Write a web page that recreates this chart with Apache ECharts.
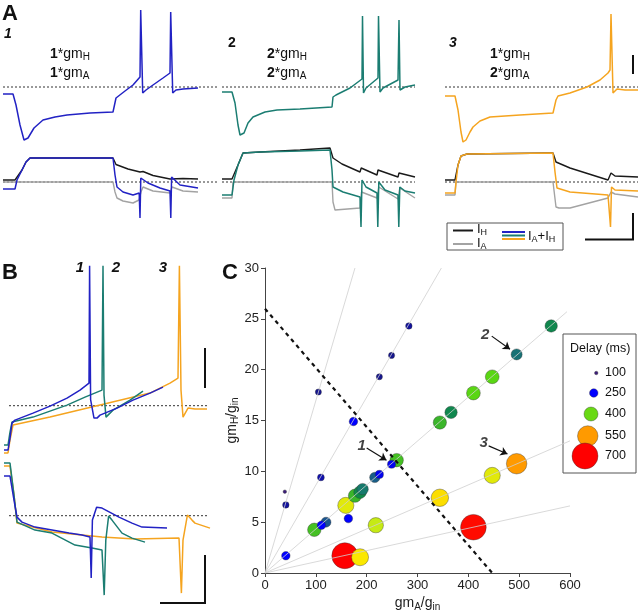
<!DOCTYPE html>
<html><head><meta charset="utf-8">
<script src="https://cdn.jsdelivr.net/npm/echarts@6/dist/echarts.min.js"></script>
<style>html,body{margin:0;padding:0;background:#fff}#c{width:640px;height:613px}</style>
</head><body><div id="c"></div>
<script>
// ---------------- Panel C data ----------------
const cGmA   = [39,41,41,105,110,97,111,120,164,159,177,187,192,216,225,249,259,218,157,187,174,225,249,283,563,495,447,410,366,344,495,447,344,410];
const cGmH   = [8.0,6.7,1.7,17.8,9.4,4.25,4.7,5.0,5.35,6.65,7.6,7.95,8.25,9.4,9.7,10.7,11.1,4.7,1.7,1.55,14.9,19.3,21.4,24.3,24.3,21.5,19.3,17.7,15.8,14.8,10.75,9.6,7.4,4.5];
const cDelay = [100,190,250,180,200,385,250,290,250,450,380,360,330,300,240,240,385,430,700,470,250,180,180,190,355,320,395,395,355,380,550,450,480,690];
const legendDelays = [100,250,400,550,700];
const cXTicks = [0,100,200,300,400,500,600];
const cYTicks = [0,5,10,15,20,25,30];
const guideEnds = [[177,30],[347,30],[594,25.7],[600,13],[600,6.6]];
const thresholdLine = [[0,26],[447,0]];
const cNoteLabels = ['1','2','3'];
const cNoteAt = [[190,12.5],[433,23.4],[430,12.8]];
const cArrowFrom = [[200,12.3],[446,23.3],[440,12.5]];
const cArrowTo = [[239,11.1],[482,22.0],[477,11.7]];

// ---------------- Panel A traces (t ms, V mV / I pA) ----------------
const a1V = [[0,-44],[100,-44],[130,-55],[170,-75],[210,-90],[250,-88],[310,-78],[400,-70],[520,-67],[640,-65],[870,-63],[1100,-62],[1120,-60],[1130,-48],[1150,-46],[1220,-41],[1300,-35],[1370,-27],[1377,40],[1397,-43],[1430,-40],[1500,-35],[1600,-28],[1670,-23],[1677,38],[1697,-43],[1730,-40],[1800,-39],[1950,-38]];
const a1Isum = [[0,-70],[120,-70],[140,20],[190,120],[230,200],[270,240],[1100,240],[1120,70],[1140,-50],[1200,-100],[1300,-130],[1362,-110],[1370,-360],[1378,40],[1450,-10],[1570,-60],[1670,-90],[1678,-360],[1686,50],[1770,-30],[1950,-60]];
const a1IH = [[0,20],[120,20],[140,40],[190,120],[230,200],[270,240],[1100,240],[1130,175],[1250,130],[1370,100],[1380,95],[1400,105],[1500,65],[1670,30],[1690,50],[1800,35],[1950,30]];
const a1IA = [[0,0],[1100,0],[1120,-100],[1140,-160],[1200,-190],[1300,-210],[1360,-180],[1380,-100],[1400,-50],[1500,-90],[1670,-110],[1690,-50],[1800,-90],[1950,-100]];

const a2V = [[0,-42],[100,-42],[130,-53],[160,-75],[180,-85],[220,-83],[260,-73],[310,-67],[430,-62],[550,-60],[780,-59],[1100,-57],[1110,-47],[1140,-45],[1280,-38],[1400,-29],[1405,34],[1415,-43],[1440,-38],[1560,-28],[1565,34],[1580,-42],[1610,-38],[1760,-30],[1770,30],[1780,-40],[1830,-37],[1930,-35]];
const a2Isum = [[0,-130],[100,-130],[120,20],[160,170],[210,290],[380,300],[780,310],[1080,320],[1100,120],[1110,-50],[1210,-100],[1380,-150],[1390,-450],[1400,20],[1440,-50],[1550,-110],[1558,-450],[1568,0],[1630,-80],[1760,-130],[1768,-450],[1778,-50],[1830,-90],[1930,-110]];
const a2IH = [[0,30],[100,30],[120,40],[160,170],[210,290],[380,300],[780,320],[1080,340],[1110,240],[1200,180],[1380,100],[1392,140],[1400,140],[1550,70],[1560,120],[1570,100],[1760,50],[1770,90],[1780,70],[1930,50]];
const a2IA = [[0,-160],[100,-160],[110,0],[1100,0],[1110,-200],[1130,-280],[1380,-260],[1395,-100],[1410,-100],[1550,-160],[1568,-50],[1760,-170],[1778,-60],[1930,-160]];

const a3V = [[0,-46],[100,-46],[130,-60],[160,-82],[180,-92],[210,-90],[250,-82],[280,-77],[350,-71],[450,-67],[750,-65],[1080,-63],[1110,-50],[1130,-46],[1250,-43],[1420,-37],[1550,-30],[1630,-23],[1650,-20],[1660,36],[1680,-43],[1720,-39],[1800,-40],[1930,-40]];
const a3Isum = [[0,-110],[100,-110],[110,0],[130,170],[160,260],[220,280],[1080,290],[1100,100],[1120,-60],[1250,-100],[1630,-130],[1655,-450],[1665,-50],[1700,-80],[1930,-90]];
const a3IH = [[0,20],[100,20],[130,170],[160,260],[220,280],[1080,290],[1110,200],[1250,140],[1630,20],[1660,90],[1700,60],[1930,50]];
const a3IA = [[0,-130],[100,-130],[110,0],[1080,0],[1110,-250],[1140,-260],[1250,-260],[1630,-160],[1660,-100],[1700,-120],[1930,-150]];
const aVThreshold = -37;
const aTraceEnds = [2140,1930,1930];

// ---------------- Panel B traces ----------------
const bV1 = [[-5,-62.2],[15,-62.2],[25,-56.2],[35,-48.7],[50,-47.2],[140,-43.7],[225,-40.2],[310,-36.2],[375,-32.2],[420,-28.7],[423,30],[428,-37],[445,-46.2],[460,-46.2],[475,-44.7],[560,-41.2],[640,-37.2],[725,-33.7],[790,-30.7]];
const bV2 = [[-5,-59.7],[15,-59.7],[25,-53.2],[35,-48.2],[140,-45.7],[310,-39.7],[400,-35.7],[485,-32.2],[490,30],[495,-34.7],[505,-45.7],[515,-45.7],[540,-42.2],[625,-37.2],[690,-32.7]];
const bV3 = [[-5,-63.6],[15,-63.6],[25,-57.2],[40,-49.7],[225,-45.7],[475,-39.7],[725,-33.7],[825,-28.7],[865,-26.2],[872,30],[880,-32.2],[890,-45.7],[900,-44.7],[915,-41.2],[950,-41.7],[1010,-41.7]];
const bI1 = [[-5,198],[25,198],[45,78],[60,-7],[85,-32],[150,-57],[235,-72],[320,-87],[385,-97],[425,-107],[431,-312],[437,-22],[458,42],[485,38],[570,-7],[635,-37],[685,-57],[810,-62]];
const bI2 = [[-5,263],[25,263],[45,103],[60,-32],[150,-72],[235,-87],[350,-147],[435,-162],[485,-172],[496,-397],[504,-122],[518,-2],[535,-22],[585,-87],[635,-112],[700,-132]];
const bI3 = [[-5,248],[25,248],[45,103],[60,-37],[235,-82],[485,-107],[650,-117],[870,-112],[882,-387],[890,-122],[912,3],[935,-22],[950,-37],[1025,-62]];
const bVThreshold = -40;
const bThresholdSpan = [20,1020];

// ---------------- styles ----------------
const FONT = "'Liberation Sans', Arial, Helvetica, sans-serif";
const COL = {c1:'#2222c4', c2:'#1b7d72', c3:'#f5a41f', IH:'#1a1a1a', IA:'#a3a3a3'};
const delayColorStops = [[100,'#3c1d7a'],[180,'#15158e'],[250,'#0000ff'],[290,'#1a5590'],[330,'#167a6c'],[360,'#0f8a48'],[395,'#5ad614'],[430,'#c6ea14'],[470,'#fbe800'],[550,'#ff9a00'],[700,'#ff0000']];
const delaySizeStops = [[100,3.5],[250,8.5],[400,14],[550,20.5],[700,26]];

function hex2rgb(h){return [parseInt(h.substr(1,2),16),parseInt(h.substr(3,2),16),parseInt(h.substr(5,2),16)];}
function interpStops(stops, d, isColor){
  if (d <= stops[0][0]) return stops[0][1];
  for (let i=1;i<stops.length;i++){
    if (d <= stops[i][0]){
      const f=(d-stops[i-1][0])/(stops[i][0]-stops[i-1][0]);
      if (!isColor) return stops[i-1][1]+f*(stops[i][1]-stops[i-1][1]);
      const a=hex2rgb(stops[i-1][1]), b=hex2rgb(stops[i][1]);
      return 'rgb('+a.map((v,k)=>Math.round(v+f*(b[k]-v))).join(',')+')';
    }
  }
  return stops[stops.length-1][1];
}
const delayColor = d => interpStops(delayColorStops,d,true);
const delaySize = d => interpStops(delaySizeStops,d,false);

// ---------------- grids ----------------
// 0..5 panel A (top/bottom per column), 6,7 panel B, 8 panel C
const grids = [
  {left:3,top:0,width:220,height:150},{left:3,top:150,width:220,height:80},
  {left:222,top:0,width:220,height:150},{left:222,top:150,width:220,height:80},
  {left:445,top:0,width:195,height:150},{left:445,top:150,width:195,height:80},
  {left:3,top:261.7,width:207,height:208},{left:3,top:461.7,width:207,height:138},
  {left:265,top:268,width:305,height:306}
];
const xRanges = [[0,2200],[0,2200],[0,2200],[0,2200],[0,1950],[0,1950],[-10,1025],[-10,1025]];
const yRanges = [[-100,50],[-480,320],[-100,50],[-480,320],[-100,50],[-480,320],[-72,32],[-420,270]];

const xAxes = xRanges.map((r,i)=>({gridIndex:i,type:'value',min:r[0],max:r[1],show:false}));
const yAxes = yRanges.map((r,i)=>({gridIndex:i,type:'value',min:r[0],max:r[1],show:false}));
const axisLbl = {color:'#222',fontSize:13,fontFamily:FONT};
xAxes.push({gridIndex:8,type:'value',min:0,max:600,interval:100,
  axisLine:{show:true,lineStyle:{color:'#444',width:1}},axisTick:{show:true,length:4,lineStyle:{color:'#444'}},
  splitLine:{show:false},axisLabel:Object.assign({margin:6,formatter:v=>cXTicks.includes(v)?String(v):''},axisLbl),
  name:'{m|gm}{s|A}{m|/g}{s|in}',nameLocation:'middle',nameGap:22,
  nameTextStyle:{rich:{m:{fontSize:14,color:'#222',fontFamily:FONT},s:{fontSize:10,color:'#222',fontFamily:FONT,padding:[7,0,0,0]}}}});
yAxes.push({gridIndex:8,type:'value',min:0,max:30,interval:5,
  axisLine:{show:true,lineStyle:{color:'#444',width:1}},axisTick:{show:true,length:4,lineStyle:{color:'#444'}},
  splitLine:{show:false},axisLabel:Object.assign({margin:6,formatter:v=>cYTicks.includes(v)?String(v):''},axisLbl),
  name:'{m|gm}{s|H}{m|/g}{s|in}',nameLocation:'middle',nameGap:24,nameRotate:90,
  nameTextStyle:{rich:{m:{fontSize:14,color:'#222',fontFamily:FONT},s:{fontSize:10,color:'#222',fontFamily:FONT,padding:[7,0,0,0]}}}});

const series = [];
function trace(g,data,color,w,extra){
  series.push(Object.assign({type:'line',xAxisIndex:g,yAxisIndex:g,data:data,showSymbol:false,symbol:'none',silent:true,animation:false,
    clip:false,lineStyle:{color:color,width:w||1.4}},extra||{}));
}
function dotted(g,x0,x1,y){
  trace(g,[[x0,y],[x1,y]],'#333',1,{lineStyle:{color:'#333',width:1,type:[2,2]}});
}
// Panel A
const aSets = [[a1V,a1Isum,a1IH,a1IA,COL.c1],[a2V,a2Isum,a2IH,a2IA,COL.c2],[a3V,a3Isum,a3IH,a3IA,COL.c3]];
aSets.forEach((s,k)=>{
  const gT=2*k, gB=2*k+1;
  dotted(gT,0,aTraceEnds[k],aVThreshold);
  trace(gT,s[0],s[4],1.5);
  dotted(gB,0,aTraceEnds[k],0);
  trace(gB,s[3],COL.IA,1.4);
  trace(gB,s[2],COL.IH,1.4);
  trace(gB,s[1],s[4],1.5);
});
// Panel B
dotted(6,bThresholdSpan[0],bThresholdSpan[1],bVThreshold);
dotted(7,bThresholdSpan[0],bThresholdSpan[1],0);
trace(6,bV3,COL.c3,1.5); trace(6,bV2,COL.c2,1.5); trace(6,bV1,COL.c1,1.5);
trace(7,bI3,COL.c3,1.5); trace(7,bI2,COL.c2,1.5); trace(7,bI1,COL.c1,1.5);

// Panel C
guideEnds.forEach(e=>trace(8,[[0,0],e],'#cfcfcf',0.8,{clip:true}));
trace(8,thresholdLine,'#111',2.2,{lineStyle:{color:'#111',width:2.2,type:[4,4]}});
const pts = cGmA.map((x,i)=>({value:[x,cGmH[i],cDelay[i]],itemStyle:{color:delayColor(cDelay[i])}}))
  .sort((a,b)=>b.value[2]-a.value[2]);
series.push({type:'scatter',xAxisIndex:8,yAxisIndex:8,data:pts,animation:false,
  symbolSize:v=>delaySize(v[2]),itemStyle:{borderColor:'rgba(50,50,50,0.55)',borderWidth:0.7,opacity:1}});
series.push({type:'lines',coordinateSystem:'cartesian2d',xAxisIndex:8,yAxisIndex:8,animation:false,silent:true,
  symbol:['none','arrow'],symbolSize:7,lineStyle:{color:'#111',width:1.2,opacity:1},
  data:cArrowFrom.map((f,i)=>({coords:[f,cArrowTo[i]]}))});
series.push({type:'scatter',xAxisIndex:8,yAxisIndex:8,symbolSize:0,animation:false,silent:true,
  data:cNoteAt.map((p,i)=>({name:cNoteLabels[i],value:p})),
  label:{show:true,position:'inside',formatter:'{b}',fontSize:15,fontWeight:'bold',fontStyle:'italic',color:'#111',fontFamily:FONT}});

// ---------------- graphics (labels, legends, scale bars) ----------------
const g = [];
function txt(x,y,text,opt){g.push({type:'text',x:x,y:y,silent:true,style:Object.assign({text:text,fill:'#111',font:'13px '+FONT,textAlign:'left',textVerticalAlign:'middle'},opt||{})});}
function ln(x1,y1,x2,y2,color,w){g.push({type:'line',silent:true,shape:{x1:x1,y1:y1,x2:x2,y2:y2},style:{stroke:color,lineWidth:w}});}
const subRich = {b:{fontWeight:'bold',fontSize:14,fontFamily:FONT,fill:'#111'},n:{fontSize:14,fontFamily:FONT,fill:'#111'},s:{fontSize:10,fontFamily:FONT,fill:'#111',padding:[7,0,0,0]}};
txt(2,14,'A',{font:'bold 22px '+FONT});
txt(2,273,'B',{font:'bold 22px '+FONT});
txt(222,273,'C',{font:'bold 22px '+FONT});
txt(4,34,'1',{font:'italic bold 14px '+FONT});
txt(228,43,'2',{font:'bold 14px '+FONT});
txt(449,43,'3',{font:'italic bold 14px '+FONT});
const aNotes = [[50,'1','1'],[267,'2','2'],[490,'1','2']];
aNotes.forEach(n=>{
  txt(n[0],54,'{b|'+n[1]+'}{n|*gm}{s|H}',{rich:subRich});
  txt(n[0],73,'{b|'+n[2]+'}{n|*gm}{s|A}',{rich:subRich});
});
txt(80,268,'1',{font:'italic bold 15px '+FONT,textAlign:'center'});
txt(116,268,'2',{font:'italic bold 15px '+FONT,textAlign:'center'});
txt(163,268,'3',{font:'italic bold 15px '+FONT,textAlign:'center'});
// scale bars
ln(633,55,633,74,'#111',2);
ln(633,213,633,239.5,'#111',2); ln(585,239.5,634,239.5,'#111',2);
ln(205,348,205,388,'#111',2);
ln(205,555,205,603,'#111',2); ln(160,603,206,603,'#111',2);
// legend A
g.push({type:'rect',silent:true,shape:{x:447,y:223,width:116,height:27},style:{fill:'#fff',stroke:'#555',lineWidth:1}});
ln(453,230.5,473,230.5,COL.IH,2); ln(453,244,473,244,COL.IA,2);
ln(502,232,525,232,COL.c1,2); ln(502,235.5,525,235.5,COL.c2,2); ln(502,239,525,239,COL.c3,2);
const legRich = {n:{fontSize:13,fontFamily:FONT,fill:'#111'},s:{fontSize:9,fontFamily:FONT,fill:'#111',padding:[6,0,0,0]}};
txt(477,229.5,'{n|I}{s|H}',{rich:legRich});
txt(477,243.5,'{n|I}{s|A}',{rich:legRich});
txt(528,236.5,'{n|I}{s|A}{n|+I}{s|H}',{rich:legRich});
// legend C
g.push({type:'rect',silent:true,shape:{x:563,y:334,width:73,height:139},style:{fill:'#fff',stroke:'#555',lineWidth:1}});
txt(570,349,'Delay (ms)',{font:'12.5px '+FONT});
const legY = [373,393,414,436,456];
legendDelays.forEach((d,i)=>{
  const r = delaySize(d)/2;
  g.push({type:'circle',silent:true,shape:{cx:598-r,cy:legY[i],r:r},style:{fill:delayColor(d),stroke:'rgba(50,50,50,0.55)',lineWidth:0.7}});
  txt(605,legY[i],String(d),{font:'12.5px '+FONT});
});

const chart = echarts.init(document.getElementById('c'),null,{renderer:'canvas',width:640,height:613});
chart.setOption({animation:false,backgroundColor:'#fff',grid:grids,xAxis:xAxes,yAxis:yAxes,series:series,graphic:{elements:g}});
</script></body></html>
